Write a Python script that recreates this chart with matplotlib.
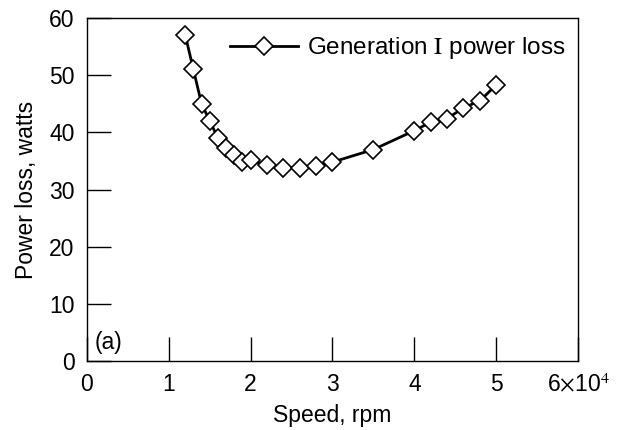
import matplotlib
matplotlib.use("Agg")
import matplotlib.pyplot as plt

plt.rcParams['font.family'] = ['Liberation Sans', 'DejaVu Sans']
plt.rcParams['mathtext.fontset'] = 'stix'

speed = [12000, 13000, 14000, 15000, 16000, 17000, 18000, 19000, 20000,
         22000, 24000, 26000, 28000, 30000, 35000, 40000, 42000, 44000,
         46000, 48000, 50000]
power_loss = [57.1, 51.0, 45.0, 42.0, 39.0, 37.2, 36.1, 34.8, 35.1,
              34.3, 33.8, 33.8, 34.1, 34.8, 37.0, 40.3, 41.8, 42.4,
              44.3, 45.5, 48.3]
series_label = r"Generation $\mathrm{I}$ power loss"
xtick_vals = [0, 10000, 20000, 30000, 40000, 50000, 60000]
xtick_labels = ["0", "1", "2", "3", "4", "5", r"6$\times$10$^{4}$"]
ytick_vals = [0, 10, 20, 30, 40, 50, 60]

FS = 16.5

fig = plt.figure(figsize=(6.24, 4.30), dpi=100)
ax = fig.add_axes([0.1394, 0.1605, 0.7869, 0.7975])

ax.plot(speed, power_loss, color='black', lw=2.0, marker='D', ms=9.2,
        mfc='white', mec='black', mew=1.2, label=series_label)

ax.set_xlim(0, 60000)
ax.set_ylim(0, 60)
ax.set_xticks(xtick_vals)
ax.set_xticklabels(xtick_labels)
ax.set_yticks(ytick_vals)
ax.tick_params(direction='in', length=17, width=1.0, labelsize=FS)
ax.tick_params(axis='x', pad=9)
ax.tick_params(axis='y', pad=9)
for s in ax.spines.values():
    s.set_linewidth(1.0)

ax.set_xlabel("Speed, rpm", fontsize=FS, labelpad=5)
ax.set_ylabel("Power loss, watts", fontsize=FS, labelpad=8)

ax.text(900, 3.3, "(a)", fontsize=FS, ha='left', va='center')

ax.legend(loc='upper right', bbox_to_anchor=(1.0, 0.985), frameon=False,
          fontsize=17.5, handlelength=2.8, handletextpad=0.4,
          borderaxespad=0.1)

fig.savefig("out.png", dpi=100)
